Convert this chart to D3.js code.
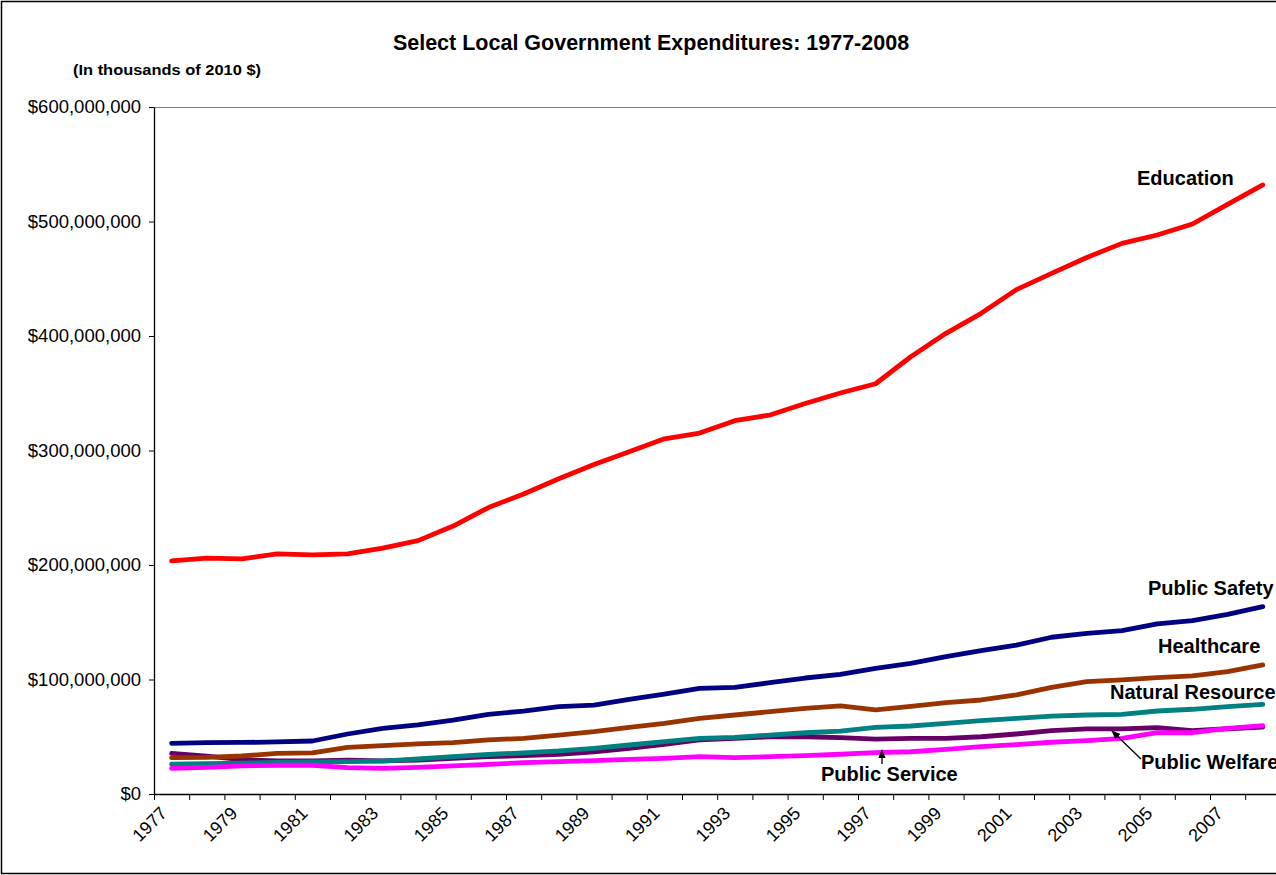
<!DOCTYPE html>
<html>
<head>
<meta charset="utf-8">
<script src="https://d3js.org/d3.v7.min.js"></script>
<style>
body { margin:0; background:#fff; }
text { font-family: "Liberation Sans", Arial, sans-serif; }
</style>
</head>
<body>
<div id="chart"></div>
<script>
// values in millions of (thousands of 2010 $)
var years = d3.range(1977, 2009);
var yTicks = [0, 100, 200, 300, 400, 500, 600];

var education = [203.6, 206, 205.3, 209.8, 208.8, 209.8, 214.8, 221.3, 234, 250.2, 262, 275.3, 287.8, 299, 310.2, 315.2,
    326, 331, 341, 350.2, 358.3, 381.9, 402.3, 419.8, 440.5, 454.7, 468.6, 480.9, 488.2, 497.8, 515, 531.9];
var publicSafety = [44.3, 44.8, 45, 45.5, 46.3, 52.4, 57.4, 60.3, 64.6, 69.6, 72.4, 76.3, 77.7, 82.7, 87.3, 92.3,
    93.2, 97.2, 101.3, 104.5, 109.8, 114.1, 119.9, 125.2, 130.1, 136.9, 140.3, 142.6, 148.5, 151.4, 156.9, 163.6];
var healthcare = [31.7, 32, 33.2, 35.5, 36, 40.8, 42.2, 43.7, 44.8, 47.2, 48.6, 51.5, 54.4, 58.2, 61.7, 66.1,
    69, 71.9, 74.8, 76.9, 73.4, 76.5, 79.8, 82.1, 86.5, 93.2, 98.1, 99.6, 101.6, 103.1, 106.8, 112.7];
var naturalResources = [26, 26.5, 27, 27.5, 28, 28.2, 28.8, 30.6, 32.6, 34.5, 36, 37.6, 39.9, 42.8, 45.7, 48.6,
    49.5, 51.5, 53.5, 55, 58.2, 59.4, 61.7, 64, 66.1, 68.1, 69, 69.6, 72.5, 74, 76.3, 78.3];
var publicWelfare = [35.5, 33, 30, 29, 29, 29.5, 29, 29.7, 31.2, 32.6, 33.5, 34.7, 36.9, 39.9, 43.4, 47.2,
    48.6, 50, 50, 49.2, 48, 48.6, 48.6, 50, 52.4, 55.3, 56.8, 56.8, 57.9, 55.3, 57, 58.5];
var publicService = [22.4, 23.3, 24.5, 25.1, 25.1, 23, 22.4, 23.3, 24.5, 25.9, 27.4, 28.2, 29.1, 30.3, 31.2, 32.6,
    31.7, 32.6, 33.5, 34.7, 36.1, 36.9, 39, 41.3, 43.1, 45.2, 46.6, 48.6, 53.5, 53.5, 57.4, 59.7];

// draw order: later on top
var series = [
    {name:"Public Welfare", values:publicWelfare, color:"#660066"},
    {name:"Natural Resources", values:naturalResources, color:"#008080"},
    {name:"Healthcare", values:healthcare, color:"#993300"},
    {name:"Public Safety", values:publicSafety, color:"#000080"},
    {name:"Education", values:education, color:"#FF0000"},
    {name:"Public Service", values:publicService, color:"#FF00FF"}
];

var W = 1276, H = 875;
var margin = {top:107, left:154};
var plotW = 1126.4, plotH = 687;

var svg = d3.select("#chart").append("svg")
    .attr("width", W)
    .attr("height", H);

// outer chart border
svg.append("rect")
    .attr("x", 1.5).attr("y", 1.5)
    .attr("width", W + 10).attr("height", H - 3)
    .attr("fill", "none").attr("stroke", "#000").attr("stroke-width", 1.5);

var g = svg.append("g").attr("transform", "translate(" + margin.left + "," + margin.top + ")");

var x = d3.scaleBand().domain(years).range([0, plotW]);
var xEdge = d3.scaleLinear().domain([0, years.length]).range([0, plotW]);
var y = d3.scaleLinear().domain([0, 600]).range([plotH, 0]);

// plot area border (top, gray)
g.append("line")
    .attr("x1", 0).attr("x2", plotW)
    .attr("y1", 0.5).attr("y2", 0.5)
    .attr("stroke", "#808080").attr("stroke-width", 1);

var fmt = d3.format(",");
var yAxis = g.append("g")
    .call(d3.axisLeft(y).tickValues(yTicks).tickSize(5).tickSizeOuter(0)
        .tickFormat(function(d){ return "$" + fmt(d * 1e6); }));
yAxis.select(".domain").attr("stroke", "#000").attr("stroke-width", 1.3);
yAxis.selectAll(".tick line").attr("stroke", "#000");
yAxis.selectAll("text")
    .attr("x", -13)
    .style("font-size", "18.5px")
    .style("font-family", "'Liberation Sans', Arial, sans-serif")
    .attr("fill", "#000");

var xAxis = g.append("g")
    .attr("transform", "translate(0," + plotH + ")")
    .call(d3.axisBottom(xEdge).tickValues(d3.range(0, years.length + 1))
        .tickSize(6).tickSizeOuter(0).tickFormat(""));
xAxis.select(".domain").attr("stroke", "#000").attr("stroke-width", 1.3);
xAxis.selectAll(".tick line").attr("stroke", "#000");

g.selectAll(".xlab")
    .data(years.filter(function(d){ return (d - 1977) % 2 === 0; }))
    .enter().append("text")
    .attr("class", "xlab")
    .attr("transform", function(d){
        return "translate(" + (x(d) + x.bandwidth() / 2 - 8) + "," + (plotH + 16) + ") rotate(-45)";
    })
    .attr("text-anchor", "end")
    .attr("dy", "0.35em")
    .style("font-size", "18px")
    .text(function(d){ return d; });

var line = d3.line()
    .x(function(d, i){ return x(years[i]) + x.bandwidth() / 2; })
    .y(function(d){ return y(d); });

g.selectAll(".series")
    .data(series)
    .enter().append("path")
    .attr("class", "series")
    .attr("fill", "none")
    .attr("stroke", function(d){ return d.color; })
    .attr("stroke-width", 4.8)
    .attr("stroke-linejoin", "round")
    .attr("stroke-linecap", "round")
    .attr("d", function(d){ return line(d.values); });

// titles
svg.append("text")
    .attr("x", 651).attr("y", 50)
    .attr("text-anchor", "middle")
    .style("font-size", "21.5px").style("font-weight", "bold")
    .text("Select Local Government Expenditures: 1977-2008");

svg.append("text")
    .attr("x", 73).attr("y", 75)
    .style("font-size", "15px").style("font-weight", "bold")
    .attr("textLength", 188).attr("lengthAdjust", "spacingAndGlyphs")
    .text("(In thousands of 2010 $)");

// series labels
var labels = [
    {text:"Education", x:1137, y:185},
    {text:"Public Safety", x:1148, y:595},
    {text:"Healthcare", x:1158, y:653},
    {text:"Natural Resources", x:1110, y:699},
    {text:"Public Welfare", x:1141, y:769},
    {text:"Public Service", x:821, y:781}
];
svg.selectAll(".slab")
    .data(labels)
    .enter().append("text")
    .attr("class", "slab")
    .attr("x", function(d){ return d.x; })
    .attr("y", function(d){ return d.y; })
    .style("font-size", "20px").style("font-weight", "bold")
    .text(function(d){ return d.text; });

// arrows
var defs = svg.append("defs");
defs.append("marker")
    .attr("id", "arrow")
    .attr("viewBox", "0 0 10 10")
    .attr("refX", 9).attr("refY", 5)
    .attr("markerWidth", 7).attr("markerHeight", 7)
    .attr("orient", "auto")
    .append("path")
    .attr("d", "M0,1 L10,5 L0,9 z")
    .attr("fill", "#000");

var arrows = [
    {x1:1141, y1:759, x2:1112, y2:731},
    {x1:882, y1:764, x2:882, y2:750}
];
svg.selectAll(".arrow")
    .data(arrows)
    .enter().append("line")
    .attr("x1", function(d){ return d.x1; })
    .attr("y1", function(d){ return d.y1; })
    .attr("x2", function(d){ return d.x2; })
    .attr("y2", function(d){ return d.y2; })
    .attr("stroke", "#000").attr("stroke-width", 1.3)
    .attr("marker-end", "url(#arrow)");
</script>
</body>
</html>
